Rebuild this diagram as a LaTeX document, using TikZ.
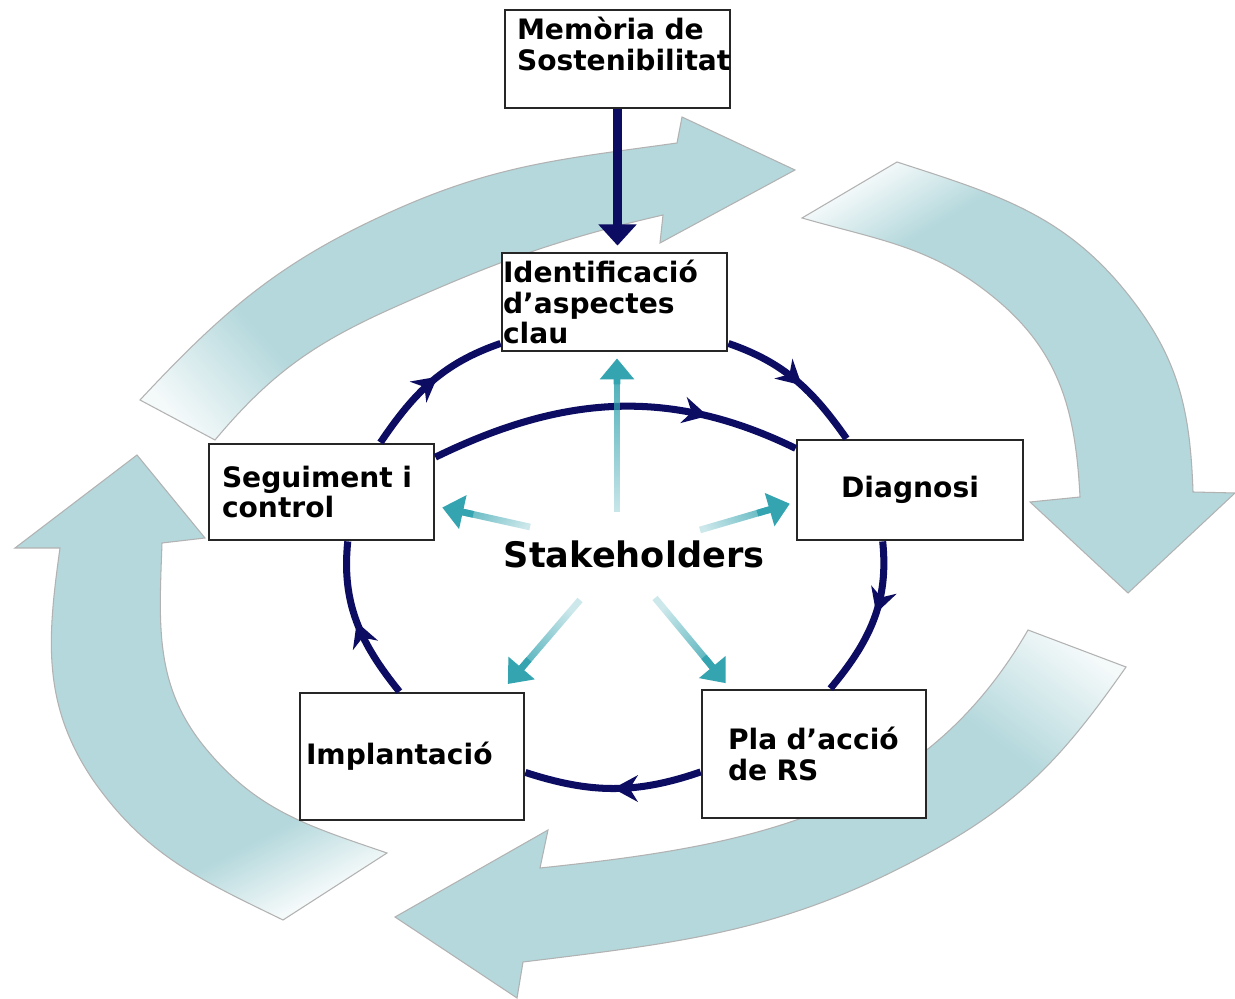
\documentclass[tikz,border=0pt]{standalone}
\usepackage{fontspec}
\setmainfont{DejaVu Sans}
\usetikzlibrary{arrows.meta,decorations.markings,fadings,calc}

\definecolor{navyring}{RGB}{12,12,98}
\definecolor{bigfill}{RGB}{180,216,220}
\definecolor{stakecol}{RGB}{52,164,176}

\pgfdeclarehorizontalshading{fadetop}{100bp}{color(0bp)=(white); color(19bp)=(white!85!bigfill); color(31bp)=(bigfill); color(100bp)=(bigfill)}
\pgfdeclarehorizontalshading{faderight}{100bp}{color(0bp)=(white); color(21bp)=(white!85!bigfill); color(30bp)=(bigfill); color(100bp)=(bigfill)}
\pgfdeclarehorizontalshading{fadebottom}{100bp}{color(0bp)=(white); color(19bp)=(white!85!bigfill); color(31bp)=(bigfill); color(100bp)=(bigfill)}
\pgfdeclarehorizontalshading{fadeleft}{100bp}{color(0bp)=(white); color(22.5bp)=(white!85!bigfill); color(31.5bp)=(bigfill); color(100bp)=(bigfill)}

\tikzfading[name=stakefade, left color=transparent!75, right color=transparent!0]

\tikzset{
    stepbox/.style={draw=black!85, line width=0.8pt, fill=white, inner ysep=0pt,
        font=\fontsize{8}{8.8}\selectfont\bfseries, align=left},
    ring/.style={draw=navyring, line width=2pt},
    ringtip/.style={postaction={decorate, decoration={markings,
        mark=at position #1 with {\arrow{Stealth[length=7pt,width=7.5pt]}}}}},
    navyline/.style={draw=navyring, line width=2.6pt, -{Triangle[width=10.5pt,length=6pt]}, shorten >=0.6mm},
    stakeshaft/.style={draw=stakecol, line width=1.9pt, path fading=stakefade, fading angle=#1},
    staketip/.style={draw=stakecol, line width=1.9pt, -{Triangle[width=9.5pt,length=6pt]}},
    bigedge/.style={draw=black!30, line width=0.3pt}
}

\begin{document}
\begin{tikzpicture}[x=0.1mm, y=0.1mm]
                    \useasboundingbox (0,0) rectangle (1235,-999);
                    \fill[white] (0,0) rectangle (1235,-999);

                    \shadedraw[bigedge, shading=fadetop, shading angle=42] (140,-400) to[out=47, in=204] (395,-210) to[out=24, in=188] (677,-143)
                        -- (682,-117) -- (795,-170) -- (660,-243) -- (663,-215)
                        to[out=193, in=24] (395,-307) to[out=204, in=50] (215,-440) -- cycle;
                    \shadedraw[bigedge, shading=faderight, shading angle=-59] (897,-162) to[out=-18, in=128] (1130,-297) to[out=-52, in=92] (1193,-492)
                        -- (1235,-493) -- (1128,-593) -- (1030,-502) -- (1080,-497)
                        to[out=93, in=-40] (997,-300) to[out=140, in=-16] (802,-218) -- cycle;
                    \shadedraw[bigedge, shading=fadebottom, shading angle=-127] (1126,-667) to[out=235, in=29] (934,-850) to[out=209, in=7] (523,-962)
                        -- (517,-998) -- (395,-917) -- (548,-830) -- (540,-868)
                        to[out=6, in=240] (1028,-630) -- cycle;
                    \shadedraw[bigedge, shading=fadeleft, shading angle=117] (283,-920) to[out=154, in=-55] (93,-780) to[out=124, in=-98] (60,-548)
                        -- (15,-548) -- (137,-455) -- (205,-538) -- (162,-543)
                        to[out=-92, in=130] (207,-750) to[out=-50, in=161] (387,-853) -- cycle;

                    \node[stepbox, minimum height=9.8mm, inner xsep=1.2mm, text width=20.1mm] (mem) at (617.5,-59) {Memòria de\\Sostenibilitat\\\mbox{}};
                    \node[stepbox, minimum height=9.8mm, inner xsep=0.1mm, text width=22.3mm] (ident) at (614.5,-302) {Identificació\\d’aspectes\\clau};
                    \node[stepbox, minimum height=9.6mm, inner xsep=1.3mm, text width=19.9mm] (seg) at (321.5,-492) {Seguiment i\\control};
                    \node[stepbox, minimum height=10mm, minimum width=22.6mm, align=center] (diag) at (910,-490) {Diagnosi};
                    \node[stepbox, minimum height=12.7mm, inner xsep=0.6mm, text width=21.2mm] (impl) at (412,-756.5) {Implantació};
                    \node[stepbox, minimum height=12.8mm, inner xsep=2.6mm, text width=17.2mm] (pla) at (814,-754) {Pla d’acció\\de RS};
                    \node[font=\fontsize{10}{12}\selectfont\bfseries] (stake) at (634,-554) {Stakeholders};

                    \draw[navyline] (mem.south) -- (mem.south |- ident.north);

                    \draw[ring, ringtip=0.55] (seg.40) to[out=56, in=199] (ident.200);
                    \draw[ring, ringtip=0.55] (ident.-20) to[out=-19, in=125] (diag.141);
                    \draw[ring, ringtip=0.75] (seg.17) to[out=26, in=154] (diag.160);
                    \draw[ring, ringtip=0.45] (diag.242) to[out=-84, in=50] (pla.76);
                    \draw[ring, ringtip=0.5] (pla.189) to[out=199, in=-18] (impl.-8);
                    \draw[ring, ringtip=0.5] (impl.101) to[out=129, in=264] (seg.-62);

                    \coordinate (su) at (617,-512);
                    \coordinate (sl) at (530,-527);
                    \coordinate (sr) at (700,-530);
                    \coordinate (sdl) at (580,-600);
                    \coordinate (sdr) at (655,-598);
                    \coordinate (eu) at (su |- ident.south);
                    \draw[stakeshaft=90, shorten >=2mm] (su) -- (eu);
                    \draw[staketip, shorten >=0.6mm] ($(su)!0.8!(eu)$) -- (eu);
                    \draw[stakeshaft=166, shorten >=2mm] (sl) -- (seg.-7);
                    \draw[staketip, shorten >=0.7mm] ($(sl)!0.6!(seg.-7)$) -- (seg.-7);
                    \draw[stakeshaft=15, shorten >=2mm] (sr) -- (diag.186);
                    \draw[staketip, shorten >=0.6mm] ($(sr)!0.6!(diag.186)$) -- (diag.186);
                    \draw[stakeshaft=228, shorten >=2mm] (sdl) -- (impl.36);
                    \draw[staketip, shorten >=1mm] ($(sdl)!0.65!(impl.36)$) -- (impl.36);
                    \draw[stakeshaft=-50, shorten >=2mm] (sdr) -- (pla.142);
                    \draw[staketip, shorten >=0.7mm] ($(sdr)!0.65!(pla.142)$) -- (pla.142);
\end{tikzpicture}
\end{document}
